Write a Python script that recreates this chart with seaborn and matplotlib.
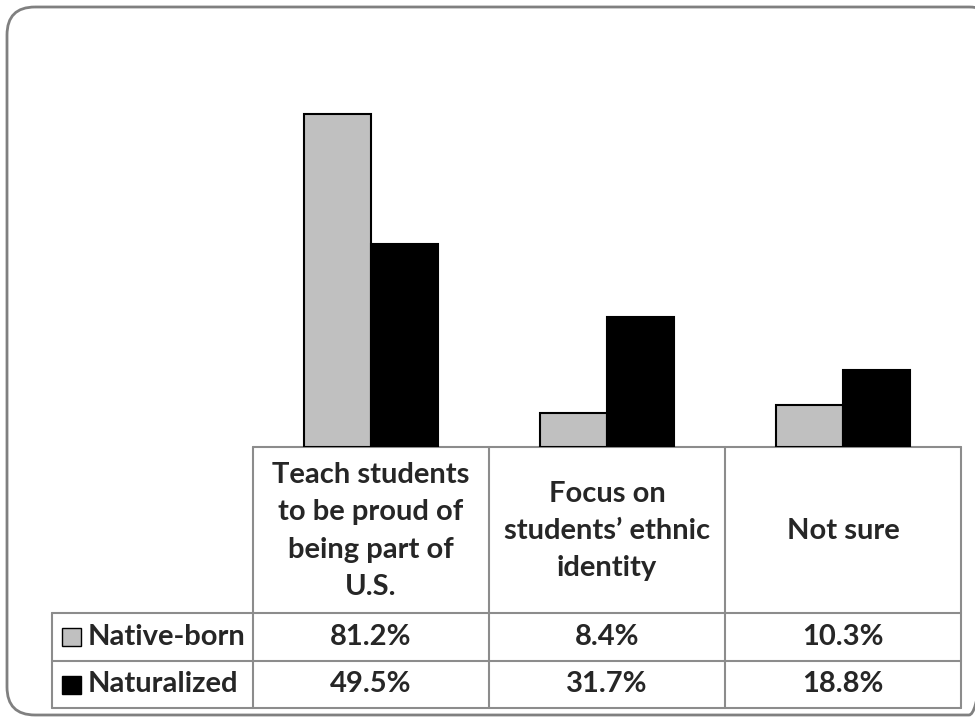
import matplotlib.pyplot as plt
import seaborn as sns
import pandas as pd
from matplotlib.patches import FancyBboxPatch, Rectangle

# data
categories = ["Teach students\nto be proud of\nbeing part of\nU.S.",
              "Focus on\nstudents’ ethnic\nidentity",
              "Not sure"]
groups = ["Native-born", "Naturalized"]
native_born = [81.2, 8.4, 10.3]
naturalized = [49.5, 31.7, 18.8]
colors = ["#c0c0c0", "#000000"]

df = pd.DataFrame({
    "category": categories * 2,
    "group": [groups[0]] * 3 + [groups[1]] * 3,
    "value": native_born + naturalized,
})

sns.set_style("white")
plt.rcParams["font.family"] = ["Lato", "DejaVu Sans"]
plt.rcParams["font.weight"] = "bold"

W, H = 975, 717
fig = plt.figure(figsize=(W / 100, H / 100), dpi=100)

# overlay in pixel units for the frame and the data table
bg = fig.add_axes([0, 0, 1, 1])
bg.set_xlim(0, W)
bg.set_ylim(H, 0)
bg.axis("off")

frame = FancyBboxPatch((7, 7), 990, 708, boxstyle="round,pad=0,rounding_size=28",
                       ec="#808080", fc="none", lw=2)
bg.add_patch(frame)

# bar area
left, right, top, base = 253, 961, 78, 447
ax = fig.add_axes([left / W, 1 - base / H, (right - left) / W, (base - top) / H])
ax.patch.set_alpha(0)
sns.barplot(data=df, x="category", y="value", hue="group", palette=colors,
            width=0.57, edgecolor="black", linewidth=1.5, ax=ax, legend=False)
ax.set_xlim(-0.5, 2.5)
ax.set_ylim(0, 90)
ax.axis("off")

# data table
grid = "#8c8c8c"
fs = 21
col_w = (right - left) / len(categories)
col_x = [left + i * col_w for i in range(len(categories) + 1)]
row_y = [base, 613, 661, 708]
tab_left = 52

bg.plot([left, right], [base, base], color=grid, lw=1.5, zorder=1)
for y in row_y[1:]:
    bg.plot([tab_left, right], [y, y], color=grid, lw=1.5)
for x in col_x:
    bg.plot([x, x], [base, row_y[-1]], color=grid, lw=1.5)
bg.plot([tab_left, tab_left], [row_y[1], row_y[-1]], color=grid, lw=1.5)

for i, cat in enumerate(categories):
    cx = (col_x[i] + col_x[i + 1]) / 2
    bg.text(cx, (row_y[0] + row_y[1]) / 2 + 1, cat, ha="center", va="center",
            multialignment="center", fontsize=fs, fontweight="bold", linespacing=1.54)

for r, (name, vals, c) in enumerate(zip(groups, [native_born, naturalized], colors)):
    cy = (row_y[r + 1] + row_y[r + 2]) / 2
    bg.add_patch(Rectangle((62, cy - 9), 19, 18, fc=c, ec="black", lw=1))
    bg.text(88, cy, name, ha="left", va="center", fontsize=fs, fontweight="bold")
    for i, v in enumerate(vals):
        cx = (col_x[i] + col_x[i + 1]) / 2
        bg.text(cx, cy, f"{v:.1f}%", ha="center", va="center", fontsize=fs, fontweight="bold")

fig.savefig("out.png", dpi=100)
